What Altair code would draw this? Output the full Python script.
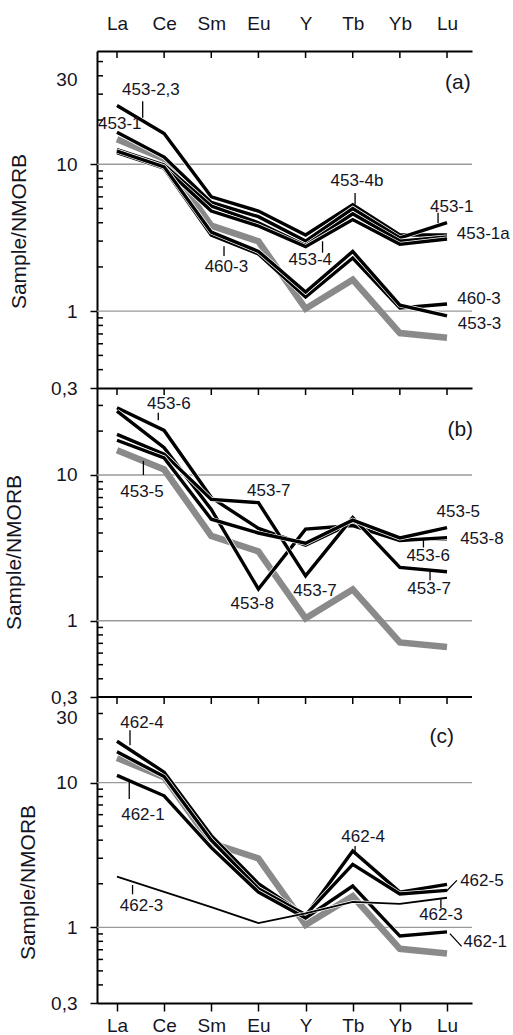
import altair as alt
import pandas as pd

# ---------------- data ----------------
ELEMENTS = ["La", "Ce", "Sm", "Eu", "Y", "Tb", "Yb", "Lu"]
IDX = list(range(len(ELEMENTS)))

# grey reference pattern (same in all panels)
GRAY_REF = [14.8, 10.9, 3.82, 2.99, 1.04, 1.64, 0.71, 0.66]

# panel (a)
A_453_23 = [25.1, 16.2, 6.0, 4.8, 3.3, 5.3, 3.3, 3.3]
A_453_1 = [16.5, 11.2, 5.5, 4.4, 3.0, 5.0, 3.15, 4.0]
A_453_4 = [12.6, 9.9, 5.2, 4.0, 2.8, 4.6, 3.0, 3.2]
A_453_1a = [12.2, 9.5, 4.8, 3.8, 2.75, 4.2, 2.85, 3.1]
A_460_3 = [12.0, 9.4, 3.3, 2.45, 1.25, 2.3, 1.05, 1.12]
A_453_3 = [12.3, 9.6, 3.45, 2.55, 1.35, 2.55, 1.1, 0.93]

# panel (b)
B_453_6 = [28.9, 20.2, 7.0, 4.3, 3.3, 4.7, 3.6, 3.65]
B_453_8 = [27.4, 15.4, 5.8, 1.65, 4.25, 4.5, 3.55, 3.72]
B_453_7 = [19.0, 13.9, 6.8, 6.46, 2.03, 5.1, 2.32, 2.17]
B_453_5 = [17.3, 13.1, 4.97, 4.0, 3.4, 4.9, 3.7, 4.36]

# panel (c)
C_462_4 = [19.3, 11.8, 4.3, 2.0, 1.2, 3.37, 1.75, 1.98]
C_462_5 = [16.3, 11.0, 4.0, 1.85, 1.22, 2.72, 1.7, 1.8]
C_462_1 = [11.2, 8.1, 3.55, 1.75, 1.16, 1.93, 0.87, 0.93]
C_462_3 = [2.24, 1.76, 1.38, 1.07, 1.25, 1.5, 1.45, 1.6]

# annotation labels: text, x (element index), y (value)
A_LABELS = [("453-2,3", 0.72, 31.9), ("453-1", 0.06, 18.7), ("460-3", 2.32, 2.0),
            ("453-4", 4.1, 2.22), ("453-4b", 5.09, 7.66), ("453-1", 7.1, 5.09),
            ("453-1a", 7.77, 3.36), ("460-3", 7.68, 1.21), ("453-3", 7.69, 0.82)]
A_LEADERS = [(0.545, 26.8, 0.545, 20.7), (2.27, 2.77, 2.27, 2.37), (4.36, 2.99, 4.36, 2.5),
             (5.05, 6.38, 5.05, 5.33), (6.81, 4.67, 6.81, 3.98)]
B_LABELS = [("453-6", 1.1, 30.8), ("453-5", 0.53, 7.65), ("453-7", 3.22, 7.76),
            ("453-8", 2.87, 1.31), ("453-7", 4.2, 1.6), ("453-5", 7.24, 5.58),
            ("453-8", 7.74, 3.63), ("453-6", 6.6, 2.78), ("453-7", 6.62, 1.65)]
B_LEADERS = [(0.876, 26.7, 0.876, 23.7), (0.56, 12.5, 0.56, 10.0),
             (6.5, 3.57, 6.5, 3.18), (6.64, 2.18, 6.64, 1.9)]
C_LABELS = [("462-4", 0.53, 25.6), ("462-1", 0.55, 6.0), ("462-3", 0.52, 1.4),
            ("462-4", 5.22, 4.22), ("462-5", 7.74, 2.08), ("462-3", 6.87, 1.22),
            ("462-1", 7.81, 0.787)]
C_LEADERS = [(0.276, 23.0, 0.276, 18.1), (0.26, 10.4, 0.26, 7.7), (0.33, 1.96, 0.33, 1.69),
             (5.05, 3.65, 5.05, 3.28), (7.21, 2.11, 6.99, 1.78), (6.87, 1.56, 6.87, 1.36),
             (7.06, 0.904, 7.31, 0.738)]
TAGS = [("(a)", 7.23, 35.6), ("(b)", 7.28, 20.5), ("(c)", 6.89, 20.7)]

GRID_VALUES = [1, 10]
MINOR_LOW = [0.4, 0.5, 0.6, 0.7, 0.8, 0.9, 2, 3, 4, 5, 6, 7, 8, 9, 20, 30]

# ---------------- style ----------------
W = 375
FONT = "Liberation Sans"
TXT = "#15151f"
X_DOMAIN = [-0.424, 7.53]
LABEL_EXPR_X = "[" + ",".join("'%s'" % e for e in ELEMENTS) + "][datum.value]"


def y_axis(values, title_x, title_y, off30):
    return alt.Axis(
        values=values,
        labelExpr="datum.value < 0.5 ? '0,3' : datum.value > 20 ? '30' : datum.value > 5 ? '10' : '1'",
        tickSize=7, tickWidth=1.5,
        tickColor={"condition": {"test": "datum.value > 20", "value": "transparent"}, "value": "black"},
        labelOffset={"condition": {"test": "datum.value > 20", "value": off30}, "value": 0},
        domainColor="black", domainWidth=2, grid=False,
        labelFont=FONT, labelFontSize=19, labelColor=TXT, labelPadding=13,
        title="Sample/NMORB", titleFont=FONT, titleFontSize=21, titleFontWeight="normal",
        titleColor=TXT, titleX=title_x, titleY=title_y, titleAngle=270,
        titleBaseline="bottom", titleAlign="center",
    )


def x_axis(kind):
    common = dict(values=IDX, grid=False, title=None, domainColor="black", domainWidth=2,
                  labelFont=FONT, labelFontSize=19, labelColor=TXT, labelFlush=False,
                  labelOverlap=False, labelExpr=LABEL_EXPR_X)
    if kind == "top":
        return alt.Axis(orient="top", tickSize=0, labelPadding=18, **common)
    if kind == "topnolabel":
        return alt.Axis(orient="top", tickSize=0, labels=False, **common)
    return alt.Axis(orient="bottom", tickSize=8, tickWidth=1.5, tickColor="black",
                    labelPadding=5, **common)


def panel(height, ymax, yvals, title_x, title_y, off30, xkind, series, labels, leaders, tag, minor, top_rule):
    ys = alt.Scale(type="log", domain=[0.3, ymax], nice=False)
    xs = alt.Scale(domain=X_DOMAIN, nice=False, zero=False)
    ya = y_axis(yvals, title_x, title_y, off30)
    xa = x_axis(xkind)

    def X(f):
        return alt.X(f, type="quantitative", scale=xs, axis=xa)

    def Y(f):
        return alt.Y(f, type="quantitative", scale=ys, axis=ya)

    layers = []
    grid = alt.Chart(pd.DataFrame({"g": GRID_VALUES})).mark_rule(color="#9a9a9a", strokeWidth=1.3).encode(y=Y("g"))
    layers.append(grid)
    mt = alt.Chart(pd.DataFrame({"m": minor})).mark_rule(color="black", strokeWidth=1.5).encode(
        y=Y("m"), x=alt.value(0), x2=alt.value(6))
    layers.append(mt)
    tt = alt.Chart(pd.DataFrame({"i": IDX})).mark_rule(color="black", strokeWidth=1.5).encode(
        x=X("i"), y=alt.value(0), y2=alt.value(7))
    layers.append(tt)
    if top_rule:
        layers.append(alt.Chart(pd.DataFrame({"z": [0]})).mark_rule(color="black", strokeWidth=2).encode(
            x=alt.value(0), x2=alt.value(W), y=alt.value(0)))

    gdf = pd.DataFrame({"i": IDX, "v": GRAY_REF})
    layers.append(alt.Chart(gdf).mark_line(color="#8a8a8a", strokeWidth=6.5).encode(x=X("i"), y=Y("v")))
    for name, vals, sw in series:
        df = pd.DataFrame({"i": IDX, "v": vals, "s": [name] * len(IDX)})
        layers.append(alt.Chart(df).mark_line(color="white", strokeWidth=sw + 1.4).encode(x=X("i"), y=Y("v")))
        layers.append(alt.Chart(df).mark_line(color="black", strokeWidth=sw).encode(x=X("i"), y=Y("v")))

    ldf = pd.DataFrame(leaders, columns=["x1", "y1", "x2", "y2"])
    layers.append(alt.Chart(ldf).mark_rule(color="black", strokeWidth=1.3).encode(
        x=X("x1"), y=Y("y1"), x2="x2", y2="y2"))
    tdf = pd.DataFrame(labels, columns=["t", "tx", "ty"])
    layers.append(alt.Chart(tdf).mark_text(font=FONT, fontSize=17, color=TXT, align="center",
                                           baseline="middle").encode(x=X("tx"), y=Y("ty"), text="t"))
    gdf2 = pd.DataFrame([tag], columns=["t", "tx", "ty"])
    layers.append(alt.Chart(gdf2).mark_text(font=FONT, fontSize=21, color=TXT, align="center",
                                            baseline="middle").encode(x=X("tx"), y=Y("ty"), text="t"))
    return alt.layer(*layers).properties(width=W, height=height)


pa = panel(337, 59, [0.3, 1, 10, 30], -68, 180, -15, "top",
           [("453-2,3", A_453_23, 3.4), ("453-1", A_453_1, 3.4), ("453-4", A_453_4, 3.4),
            ("453-1a", A_453_1a, 3.4), ("460-3", A_460_3, 3.4), ("453-3", A_453_3, 3.4)],
           A_LABELS, A_LEADERS, TAGS[0], MINOR_LOW + [40, 50], False)
pb = panel(309, 39.5, [0.3, 1, 10], -73, 164, 0, "topnolabel",
           [("453-6", B_453_6, 3.4), ("453-8", B_453_8, 3.4), ("453-7", B_453_7, 3.4), ("453-5", B_453_5, 3.4)],
           B_LABELS, B_LEADERS, TAGS[1], MINOR_LOW, False)
pc = panel(306, 39, [0.3, 1, 10, 30], -59, 185, 4, "bottom",
           [("462-4", C_462_4, 3.4), ("462-5", C_462_5, 3.4), ("462-1", C_462_1, 3.4), ("462-3", C_462_3, 1.8)],
           C_LABELS, C_LEADERS, TAGS[2], MINOR_LOW, True)

chart = alt.vconcat(pa, pb, pc, spacing=0, bounds="flush").properties(
    padding={"left": 3, "top": 14, "right": 0, "bottom": 0}
).configure_view(stroke=None)

chart.save("out.html", embed_options={"renderer": "svg", "actions": False})
